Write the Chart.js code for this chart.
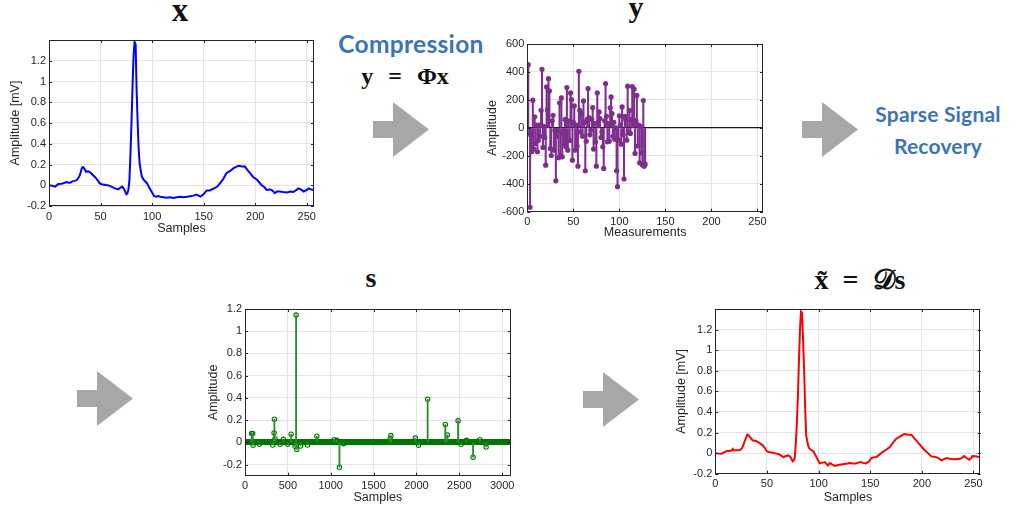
<!DOCTYPE html>
<html>
<head>
<meta charset="utf-8">
<script src="https://cdn.jsdelivr.net/npm/chart.js@4.4.0/dist/chart.umd.min.js"></script>
<style>
  body { margin: 0; width: 1029px; height: 511px; background: #fff; position: relative; overflow: hidden; }
  .box { position: absolute; }
  .arrow { position: absolute; width: 56px; height: 55px; background: #a6a8a6;
    clip-path: polygon(0 19px, 20px 19px, 20px 0, 56px 27.5px, 20px 55px, 20px 36px, 0 36px); }
  .sym { position: absolute; font-family: 'Liberation Serif', 'DejaVu Serif', serif; font-weight: bold;
    color: #111; white-space: nowrap; line-height: 1; transform: translateX(-50%); }
  .step { position: absolute; font-family: Lato, 'Open Sans', sans-serif; font-weight: bold; color: #3d74b6;
    white-space: nowrap; line-height: 1; transform: translateX(-50%); }
</style>
</head>
<body>

<div class="sym" style="left:180px; top:-6px; font-size:33px;">x</div>
<div class="sym" style="left:636px; top:-8px; font-size:30px;">y</div>
<div class="sym" style="left:371px; top:264px; font-size:28px;">s</div>
<div class="sym" style="left:860px; top:266px; font-size:28px; word-spacing:7px;">x&#771; = &#x1D49F;s</div>

<div class="step" style="left:411px; top:32px; font-size:24.5px; letter-spacing:0.3px;">Compression</div>
<div class="sym" style="left:405px; top:64px; font-size:24px; word-spacing:9px;">y = &Phi;x</div>
<div class="step" style="left:938px; top:103px; font-size:21px; letter-spacing:0.2px;">Sparse Signal</div>
<div class="step" style="left:938px; top:135px; font-size:21px; letter-spacing:0.2px;">Recovery</div>

<div class="arrow" style="left:373px; top:102px;"></div>
<div class="arrow" style="left:802px; top:102px;"></div>
<div class="arrow" style="left:77px; top:371px;"></div>
<div class="arrow" style="left:583px; top:372px;"></div>

<div class="box" style="left:0px; top:30px;"><canvas id="cx" width="322" height="210"></canvas></div>
<div class="box" style="left:484px; top:34px;"><canvas id="cy" width="288" height="211"></canvas></div>
<div class="box" style="left:205px; top:299px;"><canvas id="cs" width="314" height="211"></canvas></div>
<div class="box" style="left:673px; top:299px;"><canvas id="cr" width="316" height="211"></canvas></div>

<script>
// ECG segment x (256 samples)
const ecgSamples = [0,3,6,9,12,14,17,19,21,23,25,27,29,30,32,33,34,36,38,40,43,45,47,49,51,55,57,59,62,64,67,69,71,73,75,76,77,78,79,80,81,82,83,84,85,86,87,88,90,92,95,97,100,102,104,106,108,111,114,117,121,124,127,130,134,137,140,143,147,150,153,156,160,163,166,169,172,176,179,182,184,187,190,193,195,198,202,206,209,211,214,216,219,221,224,227,231,234,237,240,242,245,247,250,252,254,256];
const ecgValues = [0,-0.005,-0.013,0.013,0.015,0.02,0.03,0.025,0.026,0.04,0.042,0.05,0.08,0.1,0.17,0.175,0.165,0.13,0.135,0.125,0.094,0.075,0.05,0.02,0.01,0.003,0,-0.006,-0.02,-0.03,-0.04,-0.025,-0.013,-0.04,-0.087,-0.08,-0.04,0.05,0.3,0.6,0.95,1.25,1.38,1.36,0.9,0.6,0.34,0.2,0.084,0.05,0.02,-0.02,-0.07,-0.105,-0.11,-0.105,-0.11,-0.115,-0.12,-0.115,-0.123,-0.115,-0.11,-0.115,-0.11,-0.105,-0.1,-0.09,-0.11,-0.085,-0.05,-0.05,-0.03,-0.015,0.02,0.06,0.116,0.14,0.165,0.18,0.187,0.18,0.18,0.14,0.116,0.08,0.05,0.003,-0.02,-0.045,-0.04,-0.045,-0.077,-0.06,-0.06,-0.065,-0.07,-0.06,-0.065,-0.045,-0.03,-0.045,-0.06,-0.045,-0.03,-0.04,-0.045];

// compressed measurements y = Phi x (128 values)
const measValues = [452,-45,-569,-40,-171,198,-150,79,-112,20,-171,-90,19,-60,126,419,-140,10,-69,-267,293,130,352,264,-148,-198,50,90,-160,-17,-379,-60,-20,-214,179,-200,214,-207,-40,-120,60,-136,288,-160,50,-90,250,202,-231,40,157,-160,20,-131,-274,405,126,-30,102,-60,193,40,-307,-95,60,281,74,-50,-17,60,145,-152,30,-100,-274,250,40,114,67,-69,-30,-136,-290,50,317,83,-100,31,-95,143,221,102,-60,40,-81,0,-307,-421,-88,86,20,-117,150,-50,-366,83,60,-88,298,-30,126,-40,60,296,55,278,-183,50,232,-130,20,-250,10,-180,-265,195,-275,-260];

// sparse coefficients s: non-zero entries (index, value), length 3100
const sLength = 3100;
const sIndex = [78,90,95,168,323,339,343,350,409,448,499,538,584,596,604,650,729,838,1040,1071,1102,1149,1694,1702,1987,2026,2131,2337,2361,2486,2520,2583,2661,2739,2813];
const sValue = [0.079,0.079,-0.027,-0.018,-0.024,0.085,0.209,0.033,-0.018,0.027,-0.018,0.073,-0.036,1.145,-0.064,-0.033,-0.024,0.055,0.024,0.018,-0.224,-0.012,0.033,0.061,0.039,-0.027,0.388,0.161,0.067,0.194,-0.018,0.018,-0.133,0.024,-0.042];

// reconstruction x~ = D s
const recSamples = [0,3,6,9,11,14,16,17,18,21,24,26,27,29,31,32,34,36,37,39,41,44,46,48,50,53,56,59,62,64,66,68,70,72,73,75,76,77,78,79,80,81,82,83,84,85,86,87,88,90,91,93,95,97,99,101,103,106,108,109,111,113,116,119,122,125,128,130,133,136,139,141,143,146,149,151,154,156,159,162,165,169,172,175,178,181,183,186,190,193,196,199,203,206,209,212,214,217,219,221,224,227,230,233,237,239,241,243,246,248,249,252,254,256];
const recValues = [0,-0.005,-0.006,0.01,0.02,0.02,0.026,0.04,0.026,0.028,0.03,0.05,0.074,0.13,0.18,0.175,0.15,0.125,0.12,0.12,0.11,0.09,0.074,0.05,0.016,0.008,0.003,-0.005,-0.013,-0.025,-0.04,-0.03,-0.022,-0.03,-0.04,-0.08,-0.07,-0.04,0.1,0.3,0.556,0.9,1.2,1.376,1.36,1.1,0.81,0.45,0.17,0.07,0.045,0.03,0.016,-0.02,-0.06,-0.1,-0.095,-0.087,-0.11,-0.12,-0.096,-0.11,-0.125,-0.115,-0.11,-0.105,-0.1,-0.096,-0.1,-0.1,-0.09,-0.087,-0.095,-0.1,-0.08,-0.048,-0.04,-0.039,-0.015,0.01,0.03,0.058,0.1,0.138,0.155,0.175,0.186,0.18,0.177,0.14,0.106,0.07,0.026,0,-0.032,-0.035,-0.039,-0.055,-0.07,-0.06,-0.048,-0.055,-0.06,-0.06,-0.055,-0.045,-0.029,-0.045,-0.064,-0.045,-0.029,-0.03,-0.035,-0.039];

const ampTicks = [-0.2,0,0.2,0.4,0.6,0.8,1,1.2];
const sampleTicks = [0,50,100,150,200,250];
const measTicks = [-600,-400,-200,0,200,400,600];
const longTicks = [0,500,1000,1500,2000,2500,3000];

Chart.defaults.font.family = "'Liberation Sans', Arial, sans-serif";
Chart.defaults.color = '#262626';

const TEXT = '#262626';
const GRID = '#e3e3e3';

// box around the axes with short inward tick marks on all four sides
const framePlugin = {
  id: 'frame',
  afterDraw(chart) {
    const { ctx, chartArea: a, scales: { x, y } } = chart;
    ctx.save();
    ctx.strokeStyle = TEXT;
    ctx.lineWidth = 1;
    ctx.strokeRect(Math.round(a.left) + 0.5, Math.round(a.top) + 0.5, Math.round(a.width) - 1, Math.round(a.height) - 1);
    ctx.beginPath();
    x.ticks.forEach(t => {
      const p = Math.round(x.getPixelForValue(t.value)) + 0.5;
      ctx.moveTo(p, a.bottom); ctx.lineTo(p, a.bottom - 3);
      ctx.moveTo(p, a.top); ctx.lineTo(p, a.top + 3);
    });
    y.ticks.forEach(t => {
      const p = Math.round(y.getPixelForValue(t.value)) + 0.5;
      ctx.moveTo(a.left, p); ctx.lineTo(a.left + 3, p);
      ctx.moveTo(a.right, p); ctx.lineTo(a.right - 3, p);
    });
    ctx.stroke();
    ctx.restore();
  }
};

function fmt(v) { return String(Math.round(v * 10) / 10); }

function axes(o) {
  return {
    x: {
      type: 'linear', min: o.xmin, max: o.xmax, offset: false,
      afterBuildTicks: s => { s.ticks = o.xticks.map(v => ({ value: v })); },
      afterFit: s => { s.height = o.xh; },
      grid: { color: GRID, drawTicks: false, offset: false },
      border: { display: false },
      ticks: { padding: 4, font: { size: 11 }, color: TEXT, maxRotation: 0, callback: fmt },
      title: { display: true, text: o.xlabel, font: { size: 12.5 }, color: TEXT, padding: { top: 0, bottom: o.xpad } }
    },
    y: {
      type: 'linear', min: o.ymin, max: o.ymax,
      afterBuildTicks: s => { s.ticks = o.yticks.map(v => ({ value: v })); },
      afterFit: s => { s.width = o.yw; },
      grid: {
        color: c => (o.zeroLine && c.tick && c.tick.value === 0) ? '#1a1a1a' : GRID,
        lineWidth: c => (o.zeroLine && c.tick && c.tick.value === 0) ? 1.3 : 1,
        drawTicks: false
      },
      border: { display: false },
      ticks: { padding: 3, font: { size: 11 }, color: TEXT, callback: fmt },
      title: { display: true, text: o.ylabel, font: { size: 12.5 }, color: TEXT, padding: { top: o.ypad, bottom: 0 } }
    }
  };
}

const base = {
  responsive: false,
  animation: false,
  plugins: { legend: { display: false }, tooltip: { enabled: false } }
};

// x : original ECG
new Chart(document.getElementById('cx'), {
  type: 'line',
  data: {
    datasets: [{
      data: ecgSamples.map((s, i) => ({ x: s, y: ecgValues[i] })),
      borderColor: '#0000ff', borderWidth: 2, pointRadius: 0, tension: 0
    }]
  },
  options: Object.assign({}, base, {
    layout: { padding: { top: 10, right: 8, left: 0, bottom: 0 } },
    scales: axes({ xmin: 0, xmax: 257, xticks: sampleTicks, xh: 34, xlabel: 'Samples', xpad: 4,
                   ymin: -0.2, ymax: 1.4, yticks: ampTicks, yw: 49, ylabel: 'Amplitude [mV]', ypad: 8 })
  }),
  plugins: [framePlugin]
});

// y : measurements, drawn as stems
const measPts = measValues.map((v, i) => ({ x: i + 1, y: v }));
new Chart(document.getElementById('cy'), {
  type: 'scatter',
  data: {
    datasets: [
      { type: 'bar', data: measPts, backgroundColor: '#7e2f8e', barThickness: 1.4, grouped: false, borderWidth: 0 },
      { type: 'scatter', data: measPts, backgroundColor: '#7e2f8e', borderColor: '#7e2f8e', pointRadius: 2.6, borderWidth: 0 }
    ]
  },
  options: Object.assign({}, base, {
    layout: { padding: { top: 10, right: 9, left: 0, bottom: 0 } },
    scales: axes({ xmin: 0, xmax: 256, xticks: sampleTicks, xh: 33.3, xlabel: 'Measurements', xpad: 5,
                   ymin: -600, ymax: 600, yticks: measTicks, yw: 43.3, ylabel: 'Amplitude', ypad: 1, zeroLine: true })
  }),
  plugins: [framePlugin]
});

// s : sparse coefficients, stems on the non-zero entries, circles on all
const sFull = new Array(sLength).fill(0);
sIndex.forEach((k, i) => { sFull[k] = sValue[i]; });
new Chart(document.getElementById('cs'), {
  type: 'scatter',
  data: {
    datasets: [
      { type: 'bar', data: sIndex.map((k, i) => ({ x: k, y: sValue[i] })), backgroundColor: '#2a8f2a', barThickness: 1.2, grouped: false, borderWidth: 0 },
      { type: 'scatter', data: sFull.map((v, i) => ({ x: i, y: v })), backgroundColor: 'rgba(0,0,0,0)', borderColor: '#007800', pointRadius: 2.2, borderWidth: 1.1 }
    ]
  },
  options: Object.assign({}, base, {
    layout: { padding: { top: 10, right: 8.3, left: 0, bottom: 0 } },
    scales: axes({ xmin: 0, xmax: 3100, xticks: longTicks, xh: 34.3, xlabel: 'Samples', xpad: 5,
                   ymin: -0.3, ymax: 1.2, yticks: ampTicks, yw: 40, ylabel: 'Amplitude', ypad: 1 })
  }),
  plugins: [framePlugin]
});

// x~ : reconstructed ECG
new Chart(document.getElementById('cr'), {
  type: 'line',
  data: {
    datasets: [{
      data: recSamples.map((s, i) => ({ x: s, y: recValues[i] })),
      borderColor: '#ff0000', borderWidth: 2, pointRadius: 0, tension: 0
    }]
  },
  options: Object.assign({}, base, {
    layout: { padding: { top: 10, right: 8.3, left: 0, bottom: 0 } },
    scales: axes({ xmin: 0, xmax: 257, xticks: sampleTicks, xh: 36.3, xlabel: 'Samples', xpad: 5,
                   ymin: -0.2, ymax: 1.4, yticks: ampTicks, yw: 42.3, ylabel: 'Amplitude [mV]', ypad: 1 })
  }),
  plugins: [framePlugin]
});
</script>
</body>
</html>
